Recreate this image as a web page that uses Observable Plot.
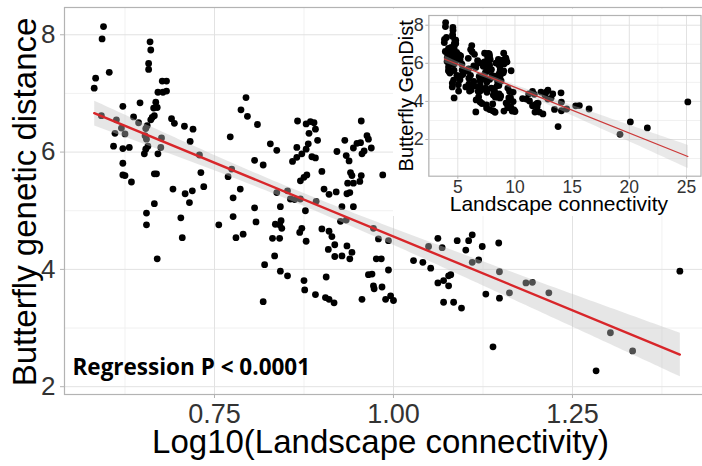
<!DOCTYPE html>
<html>
<head>
<meta charset="utf-8">
<script src="https://cdn.jsdelivr.net/npm/d3@7"></script>
<script src="https://cdn.jsdelivr.net/npm/@observablehq/plot@0.6"></script>
<style>
  html, body { margin: 0; padding: 0; background: #fff; overflow: hidden; }
  #wrap { position: relative; width: 702px; height: 466px; }
  #inset { position: absolute; left: 393px; top: 9px; }
  svg { display: block; }
</style>
</head>
<body>
<div id="wrap"><div id="main"></div><div id="inset"></div></div>
<script>
// Log10 of landscape connectivity for each site pair
const logConnectivity = [
  0.595, 0.593, 0.584, 0.582, 0.603, 0.660, 0.661, 0.658, 0.658, 0.677,
  0.683, 0.671, 0.678, 0.683, 0.668, 0.670, 0.665, 0.646, 0.622, 0.637,
  0.663, 0.666, 0.661, 0.644, 0.656, 0.654, 0.613, 0.592, 0.620, 0.611,
  0.625, 0.690, 0.694, 0.708, 0.720, 0.653, 0.655, 0.676, 0.675, 0.609,
  0.622, 0.631, 0.654, 0.657, 0.652, 0.671, 0.716, 0.729, 0.622, 0.622,
  0.625, 0.634, 0.666, 0.669, 0.692, 0.709, 0.719, 0.731, 0.735, 0.772,
  0.787, 0.796, 0.794, 0.769, 0.774, 0.786, 0.776, 0.666, 0.655, 0.655,
  0.670, 0.703, 0.705, 0.715, 0.756, 0.776, 0.780, 0.790, 0.810, 0.828,
  0.837, 0.806, 0.818, 0.866, 0.878, 0.884, 0.889, 0.891, 0.882, 0.894,
  0.881, 0.878, 0.872, 0.865, 0.859, 0.865, 0.886, 0.891, 0.955, 0.932,
  0.921, 0.934, 0.938, 0.944, 0.949, 0.954, 0.963, 0.965, 0.969, 0.959,
  0.956, 0.985, 0.837, 0.852, 0.900, 0.870, 0.875, 0.879, 0.940, 0.942,
  0.936, 0.944, 0.935, 0.939, 0.955, 0.953, 0.903, 0.910, 0.920, 0.806,
  0.808, 0.856, 0.862, 0.842, 0.835, 0.841, 0.843, 0.844, 0.831, 0.841,
  0.834, 0.820, 0.842, 0.852, 0.818, 0.870, 0.877, 0.872, 0.869, 0.878,
  0.875, 0.876, 0.891, 0.892, 0.900, 0.910, 0.914, 0.918, 0.909, 0.918,
  0.928, 0.935, 0.942, 0.939, 0.906, 0.905, 0.910, 0.917, 0.926, 0.934,
  0.928, 0.944, 0.956, 0.972, 0.979, 0.993, 0.976, 0.983, 0.993, 0.965,
  0.970, 0.972, 0.973, 0.984, 0.989, 0.996, 1.000, 1.028, 1.041, 1.052,
  1.062, 1.049, 1.068, 1.062, 1.070, 1.077, 1.070, 1.077, 1.089, 1.105,
  1.110, 1.101, 1.124, 1.147, 1.110, 1.119, 1.080, 1.084, 1.095, 1.129,
  1.148, 1.148, 1.162, 1.185, 1.194, 1.217, 1.139, 1.303, 1.334, 1.283,
  1.400
];

// Butterfly genetic distance for the same site pairs
const geneticDistance = [
  8.14, 7.93, 7.26, 7.09, 7.36, 7.88, 7.74, 7.51, 7.41, 7.21,
  7.21, 7.02, 7.02, 7.04, 6.85, 6.76, 6.75, 6.84, 6.78, 6.60,
  6.59, 6.62, 6.55, 6.50, 6.45, 6.40, 6.55, 6.62, 6.41, 6.32,
  6.31, 6.57, 6.49, 6.44, 6.39, 6.28, 6.22, 6.24, 6.08, 6.10,
  6.06, 6.08, 6.05, 6.10, 5.97, 5.97, 6.18, 5.95, 5.81, 5.61,
  5.60, 5.49, 5.63, 5.63, 5.37, 5.29, 5.34, 5.65, 5.41, 6.26,
  6.72, 6.61, 6.93, 5.58, 5.71, 5.37, 5.22, 5.12, 4.96, 4.76,
  4.18, 4.88, 4.54, 5.14, 4.76, 4.90, 4.54, 4.60, 6.47, 6.14,
  6.03, 5.86, 5.78, 6.53, 6.48, 6.52, 6.50, 6.39, 6.32, 6.20,
  6.14, 6.05, 5.97, 5.91, 5.84, 6.08, 5.92, 5.90, 6.53, 6.20,
  6.01, 5.94, 5.85, 6.07, 6.15, 6.16, 6.28, 6.22, 6.07, 6.02,
  5.97, 5.61, 5.31, 5.34, 5.67, 5.51, 5.57, 5.61, 5.65, 5.60,
  5.47, 5.47, 5.29, 5.31, 5.60, 5.50, 5.37, 5.28, 5.32, 5.05,
  4.81, 5.20, 5.19, 5.07, 4.77, 4.76, 4.83, 4.70, 4.53, 4.53,
  4.23, 4.08, 3.97, 3.89, 3.45, 5.20, 5.00, 4.70, 4.63, 4.48,
  3.81, 3.65, 3.57, 5.16, 4.69, 4.65, 4.56, 4.42, 4.34, 4.22,
  4.23, 4.40, 4.29, 4.18, 3.87, 3.52, 3.49, 3.43, 4.82, 4.84,
  5.07, 5.07, 3.49, 4.70, 4.52, 4.49, 4.18, 4.18, 3.99, 3.91,
  3.92, 3.72, 3.67, 3.70, 3.49, 3.55, 3.47, 4.15, 4.12, 4.02,
  4.53, 4.39, 4.37, 3.77, 3.81, 3.72, 3.44, 3.89, 4.49, 4.49,
  4.59, 4.33, 4.39, 4.45, 4.12, 4.16, 3.91, 3.44, 3.34, 3.58,
  3.51, 3.96, 3.60, 3.77, 3.78, 3.60, 2.68, 2.92, 2.61, 2.27,
  3.97
];

// Axis ticks
const mainXTicks = [0.75, 1.00, 1.25];
const mainXMinor = [0.625, 0.875, 1.125, 1.375];
const mainYTicks = [2, 4, 6, 8];
const mainYMinor = [3, 5, 7];
const insetXTicks = [5, 10, 15, 20, 25];
const insetXMinor = [2.5, 7.5, 12.5, 17.5, 22.5];
const insetYTicks = [2, 4, 6, 8];
const insetYMinor = [1, 3, 5, 7];

// Text
const mainXTitle = "Log10(Landscape connectivity)";
const mainYTitle = "Butterfly genetic distance";
const insetXTitle = "Landscape connectivity";
const insetYTitle = "Butterfly GenDist";
const pValueNote = "Regression P < 0.0001";

// One row per site pair; the inset shows connectivity untransformed
const pairs = logConnectivity.map((lc, i) => ({
  logConn: lc,
  conn: Math.pow(10, lc),
  dist: geneticDistance[i]
}));

const SANS = "'Liberation Sans', Arial, Helvetica, sans-serif";
const BORDER = "#b3b3b3";
const GRID = "#e2e2e2";
const GRID_MINOR = "#f1f1f1";
const BAND = "#c3c3c3";

const main = Plot.plot({
  width: 702,
  height: 466,
  marginLeft: 64,
  marginTop: 7,
  marginBottom: 72,
  marginRight: -6,
  style: { fontFamily: SANS, background: "white", overflow: "hidden" },
  x: { domain: [0.5405, 1.44] },
  y: { domain: [1.867, 8.465] },
  marks: [
    Plot.gridX(mainXMinor, { stroke: GRID_MINOR, strokeOpacity: 1, strokeWidth: 1 }),
    Plot.gridY(mainYMinor, { stroke: GRID_MINOR, strokeOpacity: 1, strokeWidth: 1 }),
    Plot.gridX(mainXTicks, { stroke: GRID, strokeOpacity: 1, strokeWidth: 1 }),
    Plot.gridY(mainYTicks, { stroke: GRID, strokeOpacity: 1, strokeWidth: 1 }),
    Plot.dot(pairs, { x: "logConn", y: "dist", r: 3.4, fill: "black", stroke: "none" }),
    Plot.linearRegressionY(pairs, {
      x: "logConn", y: "dist",
      stroke: "#d8262a", strokeWidth: 2.4,
      fill: BAND, fillOpacity: 0.41, ci: 0.95
    }),
    Plot.frame({ stroke: BORDER, strokeWidth: 1.2 }),
    Plot.axisX(mainXTicks, {
      tickFormat: d3.format(".2f"), fontSize: 27, tickSize: 4, tickPadding: 5,
      stroke: BORDER, fill: "#333", label: null
    }),
    Plot.axisY(mainYTicks, {
      tickFormat: d3.format("d"), fontSize: 26, tickSize: 4, tickPadding: 5,
      stroke: BORDER, fill: "#333", label: null
    }),
    Plot.text([mainXTitle], {
      frameAnchor: "bottom", lineAnchor: "bottom", dx: -6, dy: 58,
      fontSize: 33, fill: "black"
    }),
    Plot.text([mainYTitle], {
      frameAnchor: "left", textAnchor: "middle", lineAnchor: "bottom",
      rotate: -90, dx: -29, dy: 1, fontSize: 33, fill: "black"
    }),
    Plot.text([pValueNote], {
      frameAnchor: "bottom-left", textAnchor: "start", lineAnchor: "bottom",
      dx: 8, dy: -20, fontSize: 22.5, fontWeight: "bold",
      fontFamily: "'Open Sans', Lato, sans-serif", fill: "black"
    })
  ]
});
document.getElementById("main").append(main);

const inset = Plot.plot({
  width: 309,
  height: 207,
  marginLeft: 35.3,
  marginTop: 6,
  marginBottom: 40.3,
  marginRight: 1.5,
  style: { fontFamily: SANS, background: "white" },
  x: { domain: [2.464, 26.27] },
  y: { domain: [0.073, 8.51] },
  marks: [
    Plot.gridX(insetXMinor, { stroke: GRID_MINOR, strokeOpacity: 1, strokeWidth: 1 }),
    Plot.gridY(insetYMinor, { stroke: GRID_MINOR, strokeOpacity: 1, strokeWidth: 1 }),
    Plot.gridX(insetXTicks, { stroke: GRID, strokeOpacity: 1, strokeWidth: 1 }),
    Plot.gridY(insetYTicks, { stroke: GRID, strokeOpacity: 1, strokeWidth: 1 }),
    Plot.dot(pairs, { x: "conn", y: "dist", r: 3.4, fill: "black", stroke: "none" }),
    Plot.linearRegressionY(pairs, {
      x: "conn", y: "dist",
      stroke: "#cc3a3a", strokeWidth: 1.3,
      fill: BAND, fillOpacity: 0.36, ci: 0.95
    }),
    Plot.frame({ stroke: BORDER, strokeWidth: 1.2 }),
    Plot.axisX(insetXTicks, {
      tickFormat: d3.format("d"), fontSize: 17.5, tickSize: 3, tickPadding: 1,
      stroke: BORDER, fill: "#333", label: null
    }),
    Plot.axisY(insetYTicks, {
      tickFormat: d3.format("d"), fontSize: 18, tickSize: 3, tickPadding: 2,
      stroke: BORDER, fill: "#333", label: null
    }),
    Plot.text([insetXTitle], {
      frameAnchor: "bottom", lineAnchor: "bottom", dx: -6, dy: 35,
      fontSize: 21, fill: "black"
    }),
    Plot.text([insetYTitle], {
      frameAnchor: "left", textAnchor: "middle", lineAnchor: "bottom",
      rotate: -90, dx: -15.5, fontSize: 20, fill: "black"
    })
  ]
});
document.getElementById("inset").append(inset);
</script>
</body>
</html>
